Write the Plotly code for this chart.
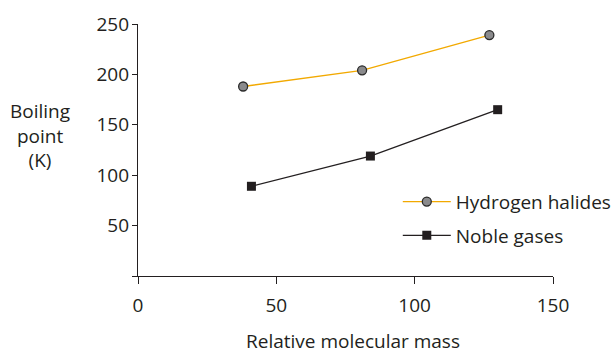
import plotly.graph_objects as go

# Boiling points vs relative molecular mass
halide_mass = [38, 81, 127]
halide_bp = [188, 204, 239]
noble_mass = [41, 84, 130]
noble_bp = [89, 119, 165]

x_ticks = [0, 50, 100, 150]
y_ticks = [0, 50, 100, 150, 200, 250]
y_labels = ["", "50", "100", "150", "200", "250"]

font_name = "Open Sans"
ink = "#231f20"

fig = go.Figure()

fig.add_trace(go.Scatter(
    x=halide_mass, y=halide_bp,
    mode="lines+markers",
    name="Hydrogen halides",
    legendgroup="a",
    line=dict(color="#f2a900", width=1.3),
    marker=dict(symbol="circle", size=9, color="#8a8a8c",
                line=dict(color="#2b2b2b", width=1.3)),
))

fig.add_trace(go.Scatter(
    x=noble_mass, y=noble_bp,
    mode="lines+markers",
    name="Noble gases",
    legendgroup="b",
    line=dict(color=ink, width=1.3),
    marker=dict(symbol="square", size=9, color=ink),
))

fig.update_layout(
    width=615, height=354,
    margin=dict(l=138, r=62, t=24, b=78, autoexpand=False),
    paper_bgcolor="white",
    plot_bgcolor="white",
    font=dict(family=font_name, size=19, color=ink),
    showlegend=True,
    legend=dict(
        x=0.626, y=0.37, xanchor="left", yanchor="top",
        bgcolor="rgba(0,0,0,0)",
        font=dict(size=19, color=ink),
        tracegroupgap=6,
        itemwidth=48,
    ),
    xaxis=dict(
        range=[0, 150],
        tickvals=x_ticks,
        ticks="outside", ticklen=7, tickwidth=1.2, tickcolor=ink,
        showline=True, linecolor=ink, linewidth=1.2,
        showgrid=False, zeroline=False,
        ticklabelstandoff=5,
    ),
    yaxis=dict(
        range=[0, 250],
        tickvals=y_ticks, ticktext=y_labels,
        ticks="outside", ticklen=5, tickwidth=1.2, tickcolor=ink,
        showline=True, linecolor=ink, linewidth=1.2,
        showgrid=False, zeroline=False,
        ticklabelstandoff=-1,
    ),
    annotations=[
        dict(
            text="Boiling<br>point<br>(K)",
            xref="paper", yref="paper",
            x=-0.235, y=0.556, xanchor="center", yanchor="middle",
            showarrow=False, font=dict(size=19, color=ink),
        ),
        # axis titles sit outside the plot, so place them as annotations
        dict(
            text="Relative molecular mass",
            xref="paper", yref="paper",
            x=0.519, y=-0.258, xanchor="center", yanchor="middle",
            showarrow=False, font=dict(size=19, color=ink),
        ),
    ],
)

# drop the default page margin so the figure sits at the window corner
fig.write_html("out.html", config={"displayModeBar": False},
               post_script="document.body.style.margin='0';")
